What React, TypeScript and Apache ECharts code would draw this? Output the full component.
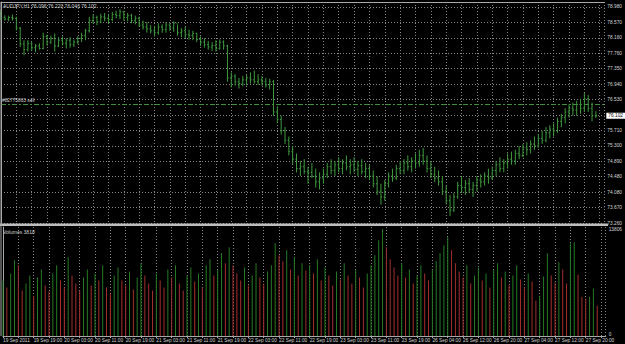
import React, { useEffect, useRef } from 'react';
import * as echarts from 'echarts';

const titleText = 'AUDJPY,H1 76.096 76.220 76.040 76.102';
const volumeTitle = 'Volumes 3818';
const sellLabel = '#82775863 sell';

const firstOpen = 78.8;
const highs = [
  78.90, 78.76, 78.75, 78.78, 78.72, 78.45, 78.10, 78.10, 78.05, 78.00,
  78.02, 78.30, 78.25, 78.22, 78.28, 78.18, 78.20, 78.15, 78.18, 78.12,
  78.20, 78.30, 78.40, 78.72, 78.78, 78.75, 78.80, 78.82, 78.78, 78.85,
  78.88, 78.92, 78.88, 78.82, 78.80, 78.75, 78.72, 78.62, 78.58, 78.50,
  78.48, 78.55, 78.52, 78.58, 78.55, 78.60, 78.52, 78.42, 78.45, 78.38,
  78.35, 78.30, 78.20, 78.15, 78.08, 78.05, 78.10, 78.12, 78.10, 77.98,
  77.25, 77.20, 77.10, 77.15, 77.18, 77.25, 77.30, 77.20, 77.15, 77.10,
  77.08, 77.05, 76.35, 76.10, 75.80, 75.55, 75.30, 75.10, 74.90, 74.95,
  74.75, 74.85, 74.70, 74.60, 74.70, 74.85, 74.95, 74.90, 75.00, 74.95,
  75.05, 74.95, 75.00, 74.90, 74.95, 74.85, 74.80, 74.65, 74.50, 74.30,
  74.40, 74.60, 74.70, 74.80, 74.90, 74.95, 75.05, 75.00, 75.10, 75.20,
  75.25, 75.05, 74.90, 74.75, 74.65, 74.50, 74.25, 74.00, 74.05, 74.35,
  74.50, 74.40, 74.45, 74.35, 74.50, 74.55, 74.60, 74.70, 74.75, 74.90,
  75.00, 74.95, 75.10, 75.15, 75.20, 75.30, 75.35, 75.40, 75.45, 75.55,
  75.60, 75.70, 75.80, 75.85, 75.90, 76.05, 76.15, 76.30, 76.40, 76.45,
  76.50, 76.55, 76.70, 76.65, 76.45, 76.22,
];
const lows = [
  78.62, 78.62, 78.60, 78.62, 78.36, 77.92, 77.70, 77.80, 77.82, 77.78,
  77.85, 77.86, 77.95, 78.00, 77.80, 77.92, 77.96, 77.88, 77.90, 77.92,
  78.00, 78.05, 78.10, 78.30, 78.55, 78.50, 78.55, 78.60, 78.55, 78.60,
  78.68, 78.66, 78.62, 78.60, 78.55, 78.52, 78.45, 78.38, 78.30, 78.28,
  78.20, 78.25, 78.30, 78.30, 78.35, 78.32, 78.22, 78.18, 78.15, 78.12,
  78.10, 78.05, 77.95, 77.90, 77.85, 77.82, 77.80, 77.85, 77.85, 77.00,
  76.85, 76.90, 76.82, 76.88, 76.90, 76.95, 76.95, 76.92, 76.90, 76.85,
  76.80, 76.10, 75.90, 75.60, 75.35, 75.05, 74.80, 74.60, 74.50, 74.55,
  74.30, 74.45, 74.20, 74.15, 74.30, 74.45, 74.55, 74.50, 74.60, 74.55,
  74.65, 74.55, 74.60, 74.50, 74.55, 74.45, 74.40, 74.20, 74.00, 73.75,
  73.85, 74.20, 74.35, 74.40, 74.55, 74.55, 74.65, 74.60, 74.70, 74.75,
  74.80, 74.60, 74.45, 74.35, 74.25, 74.00, 73.75, 73.45, 73.55, 73.90,
  74.05, 74.00, 74.05, 73.95, 74.10, 74.20, 74.25, 74.30, 74.40, 74.50,
  74.60, 74.60, 74.70, 74.80, 74.80, 74.95, 75.00, 75.05, 75.10, 75.20,
  75.25, 75.35, 75.40, 75.50, 75.55, 75.65, 75.80, 75.90, 76.05, 76.10,
  76.10, 76.15, 76.20, 76.20, 75.95, 76.04,
];
const closes = [
  78.70, 78.66, 78.70, 78.68, 78.42, 78.00, 77.85, 78.02, 77.90, 77.95,
  77.88, 78.20, 78.05, 78.15, 77.95, 78.10, 78.02, 78.10, 77.98, 78.05,
  78.15, 78.22, 78.35, 78.62, 78.70, 78.58, 78.72, 78.68, 78.65, 78.78,
  78.75, 78.85, 78.70, 78.75, 78.62, 78.68, 78.50, 78.45, 78.40, 78.35,
  78.30, 78.45, 78.38, 78.50, 78.42, 78.55, 78.30, 78.35, 78.25, 78.22,
  78.28, 78.12, 78.05, 77.98, 77.92, 77.96, 77.88, 78.05, 77.95, 77.10,
  77.15, 77.00, 76.95, 77.05, 77.10, 77.05, 77.00, 77.05, 77.00, 76.92,
  77.00, 76.20, 76.00, 75.70, 75.45, 75.15, 74.95, 74.70, 74.75, 74.62,
  74.60, 74.50, 74.35, 74.45, 74.55, 74.75, 74.65, 74.80, 74.70, 74.85,
  74.75, 74.80, 74.68, 74.78, 74.62, 74.70, 74.50, 74.30, 74.10, 73.95,
  74.30, 74.50, 74.45, 74.70, 74.65, 74.85, 74.75, 74.90, 74.85, 75.05,
  74.90, 74.70, 74.55, 74.45, 74.35, 74.10, 73.85, 73.60, 73.95, 74.25,
  74.20, 74.30, 74.15, 74.25, 74.40, 74.35, 74.50, 74.45, 74.65, 74.80,
  74.70, 74.85, 74.95, 74.90, 75.10, 75.05, 75.25, 75.20, 75.35, 75.30,
  75.50, 75.45, 75.65, 75.75, 75.70, 75.95, 76.05, 76.20, 76.30, 76.25,
  76.40, 76.30, 76.55, 76.30, 76.096, 76.102,
];
const volumes = [
  7029, 6134, 7924, 9585, 8946, 5751, 6646, 7668, 5112, 7412,
  8435, 6390, 5623, 7924, 8946, 7029, 6134, 9968, 7668, 6646,
  5751, 7412, 8435, 6390, 7924, 7029, 8946, 6134, 5368, 7668,
  8690, 7029, 6390, 8179, 5879, 7412, 9202, 7668, 6646, 5751,
  7924, 7029, 6134, 8435, 7412, 8946, 6646, 5751, 7668, 8690,
  6901, 7924, 6134, 8946, 9713, 7668, 8435, 10480, 9202, 11246,
  8946, 7924, 7029, 8690, 6390, 7668, 9202, 7412, 6646, 8179,
  8946, 11758, 10224, 9457, 10863, 8435, 9968, 7668, 9202, 8307,
  8946, 7924, 9713, 7029, 8690, 7668, 6390, 8179, 7157, 9202,
  7668, 6646, 8435, 7412, 6134, 7924, 8946, 10224, 12141, 13547,
  11246, 9713, 8690, 7668, 9202, 7412, 8435, 6646, 7668, 8946,
  7924, 7029, 8435, 9457, 10480, 11502, 12524, 10863, 9202, 8179,
  7412, 8946, 6646, 7668, 8690, 7029, 7924, 6134, 8435, 9202,
  7412, 8179, 6390, 7668, 8946, 7157, 6134, 7924, 6901, 4473,
  5112, 7540, 10480, 7668, 6773, 9329, 8435, 6646, 11758, 11885,
  7796, 4984, 4729, 4984, 6007, 3818,
];

const timeLabels = [
  '19 Sep 2011', '19 Sep 19:00', '20 Sep 03:00', '20 Sep 11:00', '20 Sep 19:00',
  '21 Sep 03:00', '21 Sep 11:00', '21 Sep 19:00', '22 Sep 03:00', '22 Sep 11:00',
  '22 Sep 19:00', '23 Sep 03:00', '23 Sep 11:00', '23 Sep 19:00', '26 Sep 04:00',
  '26 Sep 12:00', '26 Sep 20:00', '27 Sep 04:00', '27 Sep 12:00', '27 Sep 20:00',
];
const priceTicks = [
  '73.260', '73.670', '74.080', '74.480', '74.890', '75.300', '75.710', '',
  '76.530', '76.940', '77.350', '77.760', '78.160', '78.570', '78.980',
];
const priceMin = 73.26;
const priceMax = 79.112;
const priceStep = (78.98 - 73.26) / 14;
const volMax = 13806;
const lastPrice = 76.102;
const sellLevel = 76.41;

const FONT = 'Liberation Sans, Arial, sans-serif';
const BAR_GREEN = '#3f983f';
const GRID = '#858585';
const TEXT = '#d4d4d4';
const FRAME = '#a8a8a8';

export default function App() {
  const ref = useRef<HTMLDivElement>(null);
  useEffect(() => {
    document.body.style.margin = '0';
    document.body.style.background = '#000';
    if (!ref.current) return;
    const chart = echarts.init(ref.current, null, { renderer: 'svg' });
    const ohlc = closes.map((c, i) => [i, i === 0 ? firstOpen : closes[i - 1], highs[i], lows[i], c]);
    const vol = volumes.map((v, i) => ({
      value: [i, v],
      itemStyle: { color: i > 0 && v <= volumes[i - 1] ? '#a32f2f' : '#257a25' },
    }));
    const gridLine = { show: true, lineStyle: { color: GRID, type: [1, 2] as any, width: 1 } };
    const xBase = { type: 'value' as const, min: 0, max: 157.2, interval: 4 };
    chart.setOption({
      animation: false,
      backgroundColor: '#000',
      textStyle: { fontFamily: FONT },
      title: [
        { text: titleText, left: 3, top: 3, padding: 0, textStyle: { fontSize: 5, color: TEXT, fontWeight: 'normal', fontFamily: FONT } },
        { text: volumeTitle, left: 3, top: 229, padding: 0, textStyle: { fontSize: 5, color: TEXT, fontWeight: 'normal', fontFamily: FONT } },
      ],
      grid: [
        { left: 1, top: 2, width: 607, height: 221 },
        { left: 1, top: 227, width: 607, height: 109 },
      ],
      xAxis: [
        {
          ...xBase, gridIndex: 0, position: 'top',
          axisLine: { show: true, lineStyle: { color: FRAME } },
          axisTick: { show: false }, axisLabel: { show: false },
          splitLine: gridLine,
        },
        {
          ...xBase, gridIndex: 1, position: 'bottom',
          axisLine: { show: true, lineStyle: { color: FRAME } },
          axisTick: { show: true, length: 2, lineStyle: { color: FRAME } },
          axisLabel: {
            fontSize: 4.8, color: TEXT, margin: 2, align: 'left', fontFamily: FONT,
            showMinLabel: true, showMaxLabel: false,
            formatter: (v: number) => (Math.abs(v % 8) < 1e-6 ? timeLabels[Math.round(v / 8)] ?? '' : ''),
          },
          splitLine: gridLine,
        },
      ],
      yAxis: [
        {
          type: 'value', gridIndex: 0, position: 'right', min: priceMin, max: priceMax, interval: priceStep,
          axisLine: { show: true, lineStyle: { color: FRAME } },
          axisTick: { show: false },
          axisLabel: {
            fontSize: 4.8, color: TEXT, margin: 3, fontFamily: FONT,
            showMinLabel: true, showMaxLabel: true, hideOverlap: false,
            formatter: (v: number) => {
              const k = (v - priceMin) / priceStep;
              const r = Math.round(k);
              return Math.abs(k - r) < 0.2 ? priceTicks[r] ?? '' : '';
            },
          },
          splitLine: gridLine,
        },
        {
          type: 'value', gridIndex: 1, position: 'right', min: 0, max: volMax, interval: volMax,
          axisLine: { show: true, lineStyle: { color: FRAME } },
          axisTick: { show: false },
          splitLine: { show: false },
          axisLabel: {
            fontSize: 4.8, color: TEXT, margin: 3, fontFamily: FONT,
            showMinLabel: true, showMaxLabel: true,
            formatter: (v: number) => (v >= volMax ? '{t|' + volMax + '}' : '{b|0}'),
            rich: {
              t: { fontSize: 4.8, color: TEXT, padding: [4, 0, 0, 0] },
              b: { fontSize: 4.8, color: TEXT, padding: [0, 0, 3, 0] },
            },
          },
        },
      ],
      graphic: [
        { type: 'rect', z: 50, shape: { x: 0, y: 223.5, width: 608, height: 2.5 }, style: { fill: '#bdbdbd' } },
        { type: 'line', z: 50, shape: { x1: 1, y1: 2, x2: 1, y2: 336 }, style: { stroke: FRAME, lineWidth: 1 } },
      ],
      series: [
        {
          type: 'custom',
          xAxisIndex: 0,
          yAxisIndex: 0,
          data: ohlc,
          encode: { x: 0, y: [1, 2, 3, 4] },
          clip: false,
          renderItem: (params: any, api: any) => {
            const x = api.value(0);
            const ph = api.coord([x, api.value(2)]);
            const pl = api.coord([x, api.value(3)]);
            const po = api.coord([x, api.value(1)]);
            const pc = api.coord([x, api.value(4)]);
            const style = { stroke: BAR_GREEN, lineWidth: 1 };
            const t = 1.2;
            return {
              type: 'group',
              children: [
                { type: 'line', shape: { x1: ph[0], y1: ph[1], x2: pl[0], y2: pl[1] }, style },
                { type: 'line', shape: { x1: po[0] - t, y1: po[1], x2: po[0], y2: po[1] }, style },
                { type: 'line', shape: { x1: pc[0], y1: pc[1], x2: pc[0] + t, y2: pc[1] }, style },
              ],
            };
          },
          markLine: {
            silent: true,
            symbol: 'none',
            animation: false,
            data: [
              {
                yAxis: sellLevel,
                lineStyle: { color: '#3f8f3f', type: [5, 2, 2, 2] as any, width: 1.2 },
                label: {
                  show: true, position: 'insideStartTop', formatter: sellLabel, distance: 1,
                  color: TEXT, fontSize: 4.8, fontFamily: FONT,
                },
              },
              {
                yAxis: lastPrice,
                lineStyle: { color: 'rgba(0,0,0,0)', width: 1, type: 'solid' },
                label: {
                  show: true, position: 'end', formatter: lastPrice.toFixed(3), distance: 2,
                  color: '#000000', backgroundColor: '#ffffff', padding: [1, 2, 0, 2],
                  fontSize: 4.8, fontFamily: FONT, opacity: 1,
                },
              },
            ],
          },
        },
        {
          type: 'bar',
          xAxisIndex: 1,
          yAxisIndex: 1,
          data: vol,
          barWidth: 1,
        },
      ],
    });
    return () => chart.dispose();
  }, []);
  return <div ref={ref} style={{ width: 625, height: 344, background: '#000' }} />;
}
